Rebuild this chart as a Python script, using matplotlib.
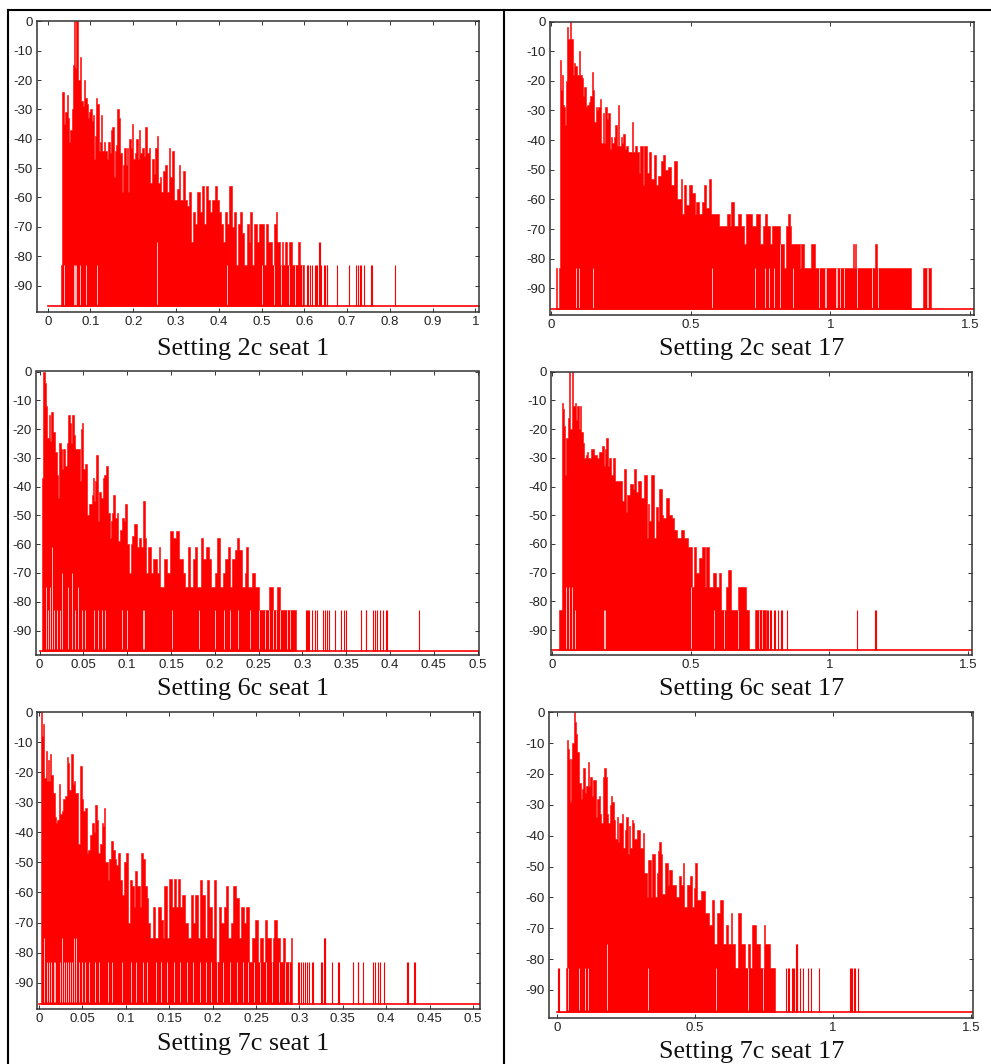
import matplotlib
matplotlib.use('Agg')
import matplotlib.pyplot as plt
from matplotlib.lines import Line2D

plt.rcParams['axes.unicode_minus'] = False

W, H = 991, 1064
FLOOR = -97

# (time, peak level in dB), level holds until next entry
env_2c1 = [(0.032,-83),(0.034,-24),(0.037,-26),(0.039,-35),(0.041,-31),(0.044,-25),(0.047,-33),(0.05,-41),(0.053,-37),
    (0.056,-30),(0.058,-15),(0.061,0),(0.065,-16),(0.067,0),(0.07,-11),(0.072,-20),(0.075,-12),(0.079,-27),(0.082,-29),
    (0.085,-20),(0.088,-26),(0.091,-28),(0.094,-33),(0.097,-31),(0.1,-30),(0.103,-34),(0.106,-32),(0.109,-47),(0.111,-39),
    (0.113,-26),(0.116,-28),(0.119,-44),(0.122,-41),(0.125,-32),(0.128,-44),(0.132,-41),(0.135,-44),(0.138,-47),(0.141,-41),
    (0.145,-45),(0.148,-37),(0.151,-36),(0.154,-53),(0.157,-44),(0.16,-42),(0.163,-30),(0.167,-33),(0.17,-45),(0.173,-58),
    (0.176,-49),(0.179,-43),(0.182,-49),(0.185,-43),(0.188,-58),(0.191,-40),(0.194,-43),(0.197,-35),(0.2,-47),(0.204,-45),
    (0.207,-40),(0.21,-47),(0.213,-37),(0.216,-45),(0.22,-43),(0.224,-46),(0.228,-36),(0.232,-45),(0.236,-43),(0.24,-55),
    (0.244,-47),(0.248,-52),(0.252,-43),(0.255,-39),(0.258,-55),(0.262,-53),(0.266,-58),(0.27,-51),(0.274,-49),(0.278,-58),
    (0.283,-43),(0.287,-53),(0.291,-44),(0.295,-61),(0.3,-61),(0.303,-57),(0.306,-49),(0.31,-61),(0.316,-51),(0.32,-61),
    (0.326,-63),(0.33,-58),(0.335,-75),(0.34,-65),(0.345,-69),(0.35,-58),(0.355,-65),(0.36,-56),(0.365,-69),(0.37,-56),
    (0.375,-61),(0.38,-65),(0.385,-61),(0.39,-56),(0.395,-61),(0.4,-65),(0.405,-69),(0.41,-75),(0.415,-65),(0.42,-69),
    (0.425,-56),(0.43,-70),(0.435,-65),(0.44,-83),(0.445,-69),(0.45,-65),(0.455,-72),(0.46,-83),(0.465,-69),(0.47,-75),
    (0.473,-65),(0.478,-83),(0.482,-69),(0.49,-75),(0.495,-69),(0.505,-83),(0.51,-69),(0.515,-75),(0.525,-83),(0.53,-69),
    (0.534,-65),(0.537,-75),(0.542,-83),(0.547,-75),(0.55,-83),(0.555,-75),(0.56,-83),(0.565,-75),(0.57,-83),(0.584,-75),
    (0.59,-83),(0.6,FLOOR)]
spike_2c1 = [0.606,0.608,0.613,0.618,0.624,0.627,0.63,0.64,0.646,0.648,0.652,0.654,0.677,0.705,0.721,0.725,0.729,0.733,0.74,0.755,0.757,0.811]
high_2c1 = [(0.634,-75),(0.636,-75)]
gaps_2c1 = [(0.038,-83),(0.062,-83),(0.064,-83),(0.066,-83),(0.075,-83),(0.09,-83),(0.115,-83),(0.255,-75),(0.42,-83),(0.5,-83),(0.528,-83),(0.545,-83),(0.563,-83),(0.578,-83),(0.594,-83)]

env_2c17 = [(0.019,-83),(0.023,FLOOR),(0.03,-83),(0.033,-13),(0.036,-23),(0.04,-18),(0.043,-28),(0.047,-29),(0.05,-35),(0.054,-20),
    (0.058,-2),(0.063,-6),(0.069,0),(0.073,-6),(0.078,-18),(0.083,-14),(0.088,-15),(0.093,-18),(0.1,-10),(0.105,-18),(0.11,-19),
    (0.115,-25),(0.12,-22),(0.125,-29),(0.13,-28),(0.135,-27),(0.14,-25),(0.146,-17),(0.15,-23),(0.155,-34),(0.16,-29),(0.165,-30),
    (0.17,-29),(0.175,-26),(0.18,-41),(0.185,-31),(0.19,-41),(0.195,-29),(0.2,-33),(0.205,-31),(0.21,-43),(0.215,-39),(0.22,-41),
    (0.225,-39),(0.23,-35),(0.235,-42),(0.24,-28),(0.245,-42),(0.25,-39),(0.255,-41),(0.26,-38),(0.265,-43),(0.27,-42),(0.275,-44),
    (0.29,-34),(0.295,-44),(0.3,-42),(0.31,-44),(0.315,-51),(0.32,-42),(0.33,-55),(0.335,-42),(0.345,-51),(0.35,-44),(0.36,-53),
    (0.37,-45),(0.375,-55),(0.385,-52),(0.395,-47),(0.4,-45),(0.41,-50),(0.42,-49),(0.43,-55),(0.44,-47),(0.452,-60),(0.464,-53),
    (0.47,-65),(0.478,-55),(0.485,-62),(0.496,-55),(0.505,-58),(0.515,-65),(0.52,-61),(0.53,-65),(0.54,-61),(0.549,-55),(0.555,-63),
    (0.567,-53),(0.572,-65),(0.6,-69),(0.63,-65),(0.64,-69),(0.645,-61),(0.655,-69),(0.67,-65),(0.68,-69),(0.69,-75),(0.7,-65),(0.72,-69),
    (0.735,-65),(0.75,-75),(0.76,-69),(0.765,-65),(0.775,-69),(0.785,-75),(0.79,-69),(0.82,-75),(0.835,-83),(0.84,-69),
    (0.85,-65),(0.855,-69),(0.86,-75),(0.89,-83),(0.895,-75),(0.905,-83),(0.93,-75),(0.945,-83),(1.08,-75),(1.083,-83),(1.09,-75),
    (1.093,-83),(1.16,-75),(1.166,-83),(1.29,FLOOR),(1.33,-83),(1.36,FLOOR)]
spike_2c17 = []
high_2c17 = []
gaps_2c17 = [(0.09,-83),(0.1,-83),(0.15,-83),(0.575,-83),(0.73,-83),(0.765,-83),(0.78,-83),(0.8,-83),(0.82,-75),(0.865,-83),
    (0.96,-83),(0.98,-83),(0.985,-83),(1.02,-83),(1.025,-83),(1.035,-83),(1.05,-83),(1.095,-83),(1.15,-83),(1.17,-83),(1.345,-83),(1.35,-83)]

env_6c1 = [(0.003,-37),(0.0035,-30),(0.004,0),(0.006,-4),(0.0075,-12),(0.009,-23),(0.011,-15),(0.0125,-24),(0.0135,-14),(0.0155,-21),
    (0.0175,-28),(0.0195,-36),(0.021,-44),(0.0225,-25),(0.024,-27),(0.026,-34),(0.027,-27),(0.029,-33),(0.031,-25),(0.033,-15),
    (0.0345,-18),(0.0355,-25),(0.037,-15),(0.039,-22),(0.041,-27),(0.0445,-27),(0.046,-38),(0.047,-20),(0.0485,-18),(0.05,-34),
    (0.052,-32),(0.054,-50),(0.056,-46),(0.058,-46),(0.06,-43),(0.061,-37),(0.0625,-45),(0.0635,-38),(0.065,-29),(0.0665,-52),
    (0.068,-42),(0.07,-44),(0.072,-37),(0.0735,-36),(0.076,-33),(0.078,-49),(0.08,-58),(0.082,-52),(0.083,-49),(0.084,-43),
    (0.086,-51),(0.088,-49),(0.09,-59),(0.092,-55),(0.094,-51),(0.096,-52),(0.098,-46),(0.1,-60),(0.102,-70),(0.104,-60),
    (0.106,-57),(0.108,-53),(0.111,-61),(0.114,-58),(0.116,-61),(0.118,-45),(0.12,-58),(0.122,-70),(0.124,-61),(0.127,-70),
    (0.13,-65),(0.134,-70),(0.136,-61),(0.138,-75),(0.142,-65),(0.146,-70),(0.149,-55.5),(0.152,-58),(0.156,-55.5),(0.159,-65),
    (0.164,-70),(0.166,-75),(0.17,-61),(0.172,-75),(0.175,-65),(0.178,-61),(0.18,-75),(0.184,-58),(0.187,-65),(0.19,-61),
    (0.193,-65),(0.196,-75),(0.2,-70),(0.203,-58),(0.206,-75),(0.209,-70),(0.212,-65),(0.215,-61),(0.217,-75),(0.22,-65),
    (0.223,-62),(0.225,-58),(0.228,-62),(0.231,-75),(0.234,-70),(0.236,-61),(0.238,-75),(0.242,-70),(0.246,-75),(0.25,-83),
    (0.262,-75),(0.266,-83),(0.271,-75),(0.274,-83),(0.29,-83),(0.293,FLOOR)]
spike_6c1 = [0.304,0.305,0.306,0.308,0.311,0.314,0.317,0.324,0.326,0.328,0.33,0.337,0.344,0.347,0.35,0.3665,0.372,0.373,0.381,0.383,0.385,0.389,0.392,0.395,0.397,0.433]
high_6c1 = []
gaps_6c1 = [(0.007,-75),(0.0095,-83),(0.0125,-75),(0.0145,-61),(0.017,-83),(0.02,-83),(0.0235,-83),(0.026,-70),(0.033,-75),(0.037,-70),
    (0.041,-83),(0.044,-75),(0.048,-83),(0.052,-83),(0.062,-83),(0.067,-83),(0.071,-83),(0.075,-83),(0.094,-83),(0.1,-83),
    (0.118,-83),(0.119,-83),(0.151,-83),(0.182,-83),(0.2,-83),(0.21,-83),(0.217,-83),(0.227,-83),(0.24,-83),(0.25,-83),(0.257,-83),
    (0.262,-83),(0.266,-83),(0.27,-83),(0.274,-83),(0.282,-83),(0.286,-83)]

env_6c17 = [(0.025,-83),(0.035,-11),(0.038,-13),(0.041,-19),(0.046,-36),(0.05,-23),(0.055,-16),(0.06,0),(0.065,-20),(0.069,0),(0.073,-12),
    (0.08,-11),(0.085,-17),(0.09,-12),(0.095,-20),(0.1,-12),(0.105,-21),(0.11,-25),(0.115,-30),(0.12,-29),(0.125,-28),(0.13,-30),
    (0.14,-27),(0.15,-29),(0.16,-30),(0.17,-28),(0.178,-26),(0.185,-33),(0.19,-27),(0.195,-23),(0.2,-33),(0.205,-30),(0.21,-36),
    (0.218,-30),(0.225,-38),(0.24,-38),(0.25,-45),(0.26,-34),(0.265,-49),(0.27,-43),(0.28,-39),(0.29,-41),(0.295,-34),(0.3,-42),
    (0.31,-38),(0.32,-44),(0.33,-36),(0.34,-58),(0.345,-46),(0.35,-52),(0.355,-36),(0.365,-58),(0.375,-47),(0.38,-52),(0.385,-41),
    (0.395,-50),(0.4,-51),(0.41,-44),(0.42,-50),(0.43,-51),(0.44,-55),(0.45,-58),(0.465,-55),(0.475,-58),(0.49,-61),(0.505,-75),
    (0.51,-61),(0.52,-70),(0.53,-65),(0.54,-61),(0.55,-75),(0.555,-61),(0.565,-75),(0.58,-70),(0.59,-75),(0.6,-70),(0.61,-83),
    (0.625,-75),(0.635,-69),(0.645,-83),(0.67,-75),(0.7,-83),(0.71,FLOOR),(0.73,-83),(0.77,FLOOR)]
spike_6c17 = [0.775,0.78,0.785,0.79,0.8,0.805,0.815,0.825,0.83,0.846,1.1,1.165,1.17]
high_6c17 = []
gaps_6c17 = [(0.05,-75),(0.06,-75),(0.069,-75),(0.08,-83),(0.185,-83),(0.19,-83),(0.5,-75),(0.585,-83),(0.62,-83),(0.67,-83),(0.745,-83),(0.755,-83)]

env_7c1 = [(0.002,0),(0.003,-8),(0.005,-4),(0.006,-22),(0.0075,-13),(0.009,-23),(0.0105,-16),(0.0115,-23),(0.0125,-14),(0.014,-21),
    (0.016,-27),(0.018,-35),(0.02,-37),(0.021,-36),(0.0225,-24),(0.024,-34),(0.026,-33),(0.0275,-29),(0.03,-28),(0.032,-15),(0.0335,-17),
    (0.035,-26),(0.037,-14),(0.039,-24),(0.0405,-23),(0.042,-27),(0.045,-44),(0.047,-18),(0.049,-29),(0.051,-33),(0.053,-32),(0.055,-47),
    (0.057,-46),(0.059,-41),(0.061,-37),(0.063,-40),(0.0645,-31),(0.0665,-36),(0.068,-47),(0.07,-44),(0.072,-37),(0.0735,-38),(0.0745,-32),
    (0.076,-50),(0.079,-56),(0.081,-49),(0.083,-43),(0.085,-46),(0.087,-49),(0.089,-51),(0.091,-47),(0.093,-56),(0.096,-61),(0.098,-50),
    (0.1,-47),(0.102,-70),(0.105,-56),(0.107,-58),(0.109,-65),(0.111,-53),(0.113,-58),(0.116,-65),(0.118,-47),(0.12,-49),(0.122,-58),
    (0.124,-62),(0.126,-70),(0.128,-75),(0.131,-65),(0.134,-75),(0.137,-65),(0.14,-69),(0.143,-75),(0.144,-58),(0.147,-75),(0.15,-55.5),
    (0.153,-65),(0.155,-55.5),(0.158,-65),(0.16,-55.5),(0.162,-65),(0.165,-61),(0.168,-70),(0.172,-75),(0.175,-61),(0.178,-70),(0.18,-61),
    (0.183,-75),(0.185,-60),(0.186,-56),(0.188,-61),(0.191,-75),(0.193,-56),(0.196,-65),(0.199,-75),(0.202,-56),(0.204,-83),(0.207,-65),
    (0.21,-70),(0.213,-65),(0.215,-58),(0.218,-75),(0.221,-70),(0.224,-58),(0.227,-62),(0.23,-75),(0.233,-65),(0.236,-70),(0.239,-65),
    (0.242,-83),(0.245,-75),(0.249,-69),(0.252,-83),(0.255,-75),(0.258,-83),(0.26,-69),(0.263,-75),(0.267,-83),(0.27,-75),(0.271,-69),
    (0.274,-75),(0.278,-83),(0.281,-75),(0.284,-83),(0.29,-75),(0.291,FLOOR)]
spike_7c1 = [0.298,0.3,0.302,0.304,0.306,0.309,0.311,0.314,0.316,0.325,0.326,0.338,0.345,0.346,0.362,0.367,0.368,0.373,0.385,0.387,0.391,0.393,0.397,0.424,0.425,0.432,0.433]
high_7c1 = [(0.328,-75),(0.329,-75),(0.33,-75)]
gaps_7c1 = [(0.006,-75),(0.0095,-83),(0.012,-83),(0.0135,-83),(0.017,-83),(0.0185,-83),(0.024,-83),(0.026,-75),(0.029,-83),(0.031,-83),
    (0.033,-83),(0.036,-83),(0.038,-83),(0.04,-75),(0.043,-75),(0.046,-83),(0.05,-83),(0.053,-83),(0.058,-83),(0.065,-83),(0.069,-83),
    (0.08,-83),(0.084,-83),(0.096,-83),(0.106,-83),(0.112,-83),(0.12,-83),(0.124,-83),(0.135,-83),(0.14,-83),(0.148,-83),(0.155,-83),
    (0.163,-83),(0.17,-83),(0.178,-83),(0.186,-83),(0.192,-83),(0.198,-83),(0.205,-83),(0.212,-83),(0.22,-83),(0.228,-83),(0.235,-83),
    (0.241,-83),(0.248,-83),(0.255,-83),(0.262,-83),(0.268,-83),(0.276,-83),(0.283,-83),(0.288,-83)]

env_7c17 = [(0.003,FLOOR),(0.032,-83),(0.034,-15),(0.036,-9),(0.039,-12),(0.042,-15),(0.045,-25),(0.047,-29),(0.05,-15),(0.055,-10),(0.06,0),
    (0.064,-3),(0.068,-7),(0.072,-13),(0.08,-23),(0.085,-28),(0.09,-25),(0.095,-18),(0.1,-26),(0.105,-24),(0.11,-16),(0.115,-24),
    (0.12,-21),(0.125,-27),(0.13,-22),(0.14,-34),(0.145,-28),(0.15,-27),(0.155,-33),(0.16,-36),(0.165,-21),(0.17,-18),(0.175,-21),(0.18,-33),
    (0.185,-36),(0.19,-30),(0.195,-27),(0.2,-29),(0.205,-35),(0.21,-41),(0.215,-34),(0.22,-42),(0.225,-36),(0.235,-33),(0.24,-44),
    (0.245,-38),(0.25,-34),(0.255,-46),(0.26,-37),(0.265,-44),(0.27,-35),(0.275,-36),(0.28,-41),(0.29,-38),(0.3,-44),(0.31,-39),
    (0.315,-52),(0.325,-60),(0.33,-48),(0.34,-60),(0.345,-46),(0.355,-60),(0.36,-52),(0.365,-45),(0.37,-42),(0.375,-46),(0.38,-59),
    (0.39,-49),(0.4,-56),(0.405,-51),(0.415,-56),(0.43,-60),(0.44,-53),(0.45,-56),(0.455,-49),(0.46,-63),(0.47,-56),(0.48,-53),
    (0.49,-63),(0.495,-57),(0.5,-49),(0.505,-61),(0.52,-58),(0.535,-65),(0.55,-69),(0.56,-61),(0.57,-75),(0.58,-65),(0.59,-61),
    (0.6,-75),(0.61,-69),(0.62,-75),(0.63,-65),(0.635,-75),(0.645,-83),(0.655,-65),(0.665,-75),(0.68,-83),(0.69,-75),(0.7,-83),
    (0.705,-69),(0.72,-75),(0.735,-83),(0.75,-69),(0.755,-75),(0.77,-83),(0.79,FLOOR)]
spike_7c17 = [0.003,0.005,0.83,0.835,0.84,0.85,0.855,0.86,0.865,0.87,0.88,0.89,0.91,0.92,0.95,1.06,1.065,1.07,1.075,1.08,1.09]
high_7c17 = [(0.864,-75),(0.868,-75),(0.871,-75)]
gaps_7c17 = [(0.04,-83),(0.08,-83),(0.1,-83),(0.11,-83),(0.18,-75),(0.33,-83),(0.575,-83),(0.69,-83),(0.745,-83)]

titles = ['Setting 2c seat 1', 'Setting 2c seat 17', 'Setting 6c seat 1',
          'Setting 6c seat 17', 'Setting 7c seat 1', 'Setting 7c seat 17']
envelopes = [env_2c1, env_2c17, env_6c1, env_6c17, env_7c1, env_7c17]
spikes = [spike_2c1, spike_2c17, spike_6c1, spike_6c17, spike_7c1, spike_7c17]
highs = [high_2c1, high_2c17, high_6c1, high_6c17, high_7c1, high_7c17]
gaps = [gaps_2c1, gaps_2c17, gaps_6c1, gaps_6c17, gaps_7c1, gaps_7c17]

ticks_short = [0, 0.5, 1, 1.5]
ticks_1 = [0, 0.1, 0.2, 0.3, 0.4, 0.5, 0.6, 0.7, 0.8, 0.9, 1]
ticks_05 = [0, 0.05, 0.1, 0.15, 0.2, 0.25, 0.3, 0.35, 0.4, 0.45, 0.5]
xticks = [ticks_1, ticks_short, ticks_05, ticks_short, ticks_05, ticks_short]
yticks = [0, -10, -20, -30, -40, -50, -60, -70, -80, -90]

# left, right, top, bottom in px, then xlim, ylim bottom, title centre x and baseline y
boxes = [(37, 479.3, 21.3, 312, -0.025, 1.009, -99, 243, 355),
         (549.7, 973.7, 21.5, 315, -0.004, 1.513, -99, 752, 355),
         (36, 479, 371.5, 655.3, -0.004, 0.5015, -98.6, 243, 695),
         (551.3, 972.3, 371.7, 654.7, -0.004, 1.516, -98.6, 752, 695),
         (37.3, 480.3, 712.3, 1009.3, -0.002, 0.5085, -98.9, 243, 1050),
         (549, 973.3, 712.3, 1017.7, -0.03, 1.5085, -99, 752, 1058)]

fig = plt.figure(figsize=(W / 100, H / 100), dpi=100)

# table rules round the panels
for xs, ys in [((8, 8), (10, H)), ((503.5, 503.5), (10, H)), ((8, W), (10, 10))]:
    fig.add_artist(Line2D([x / W for x in xs], [1 - y / H for y in ys], color='black', lw=1.5))

for i, box in enumerate(boxes):
    left, right, top, bottom, x0, x1, y0, tx, ty = box
    ax = fig.add_axes([left / W, 1 - bottom / H, (right - left) / W, (bottom - top) / H])
    t = [p[0] for p in envelopes[i]]
    y = [p[1] for p in envelopes[i]]
    ax.fill_between(t, FLOOR, y, step='post', color='#ff0000', lw=0.4)
    ax.vlines(spikes[i], FLOOR, -83, color='#ff0000', lw=0.8)
    for s in highs[i]:
        ax.vlines(s[0], FLOOR, s[1], color='#ff0000', lw=0.8)
    for g in gaps[i]:
        ax.vlines(g[0], FLOOR + 0.5, g[1], color='white', lw=0.6, alpha=0.85)
    ax.plot([max(x0, 0), x1], [FLOOR, FLOOR], color='#ff0000', lw=1.2, clip_on=i != 0)
    ax.set_xlim(x0, x1)
    ax.set_ylim(y0, 0)
    ax.set_xticks(xticks[i])
    ax.set_xticklabels([str(v) for v in xticks[i]])
    ax.set_yticks(yticks)
    ax.tick_params(direction='in', top=True, right=True, length=3, width=0.7, color='#333333',
                   labelsize=9.5, labelcolor='#222222', pad=3)
    for lab in ax.get_xticklabels() + ax.get_yticklabels():
        lab.set_family('Liberation Sans')
    for sp in ax.spines.values():
        sp.set_linewidth(1.1)
        sp.set_color('#333333')
    fig.text(tx / W, 1 - ty / H, titles[i], family='Liberation Serif', fontsize=18.8,
             ha='center', va='baseline', color='#111111')

plt.savefig('out.png', dpi=100)
